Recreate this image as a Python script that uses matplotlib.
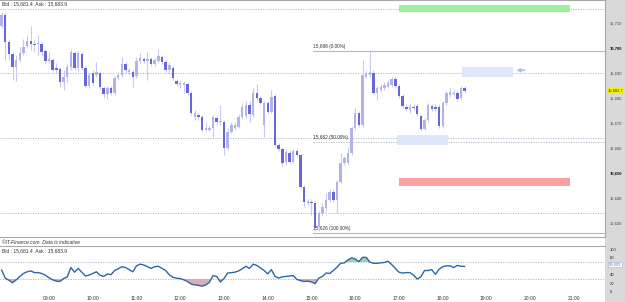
import matplotlib
matplotlib.use('Agg')
import matplotlib.pyplot as plt
import matplotlib.transforms as mtransforms
from matplotlib.patches import Rectangle
import numpy as np
import pandas as pd

plt.rcParams['font.family'] = ['Liberation Sans', 'DejaVu Sans']

W, H = 625, 302

# 5 minute candles, first one at 07:55
first_bar = '2024-01-01 07:55'

opens = [15708.7, 15713.1, 15702.3, 15697.5, 15692.3, 15695.1, 15697.9, 15700.7, 15702.7, 15701.5,
         15701.3, 15701.5, 15698.7, 15694.7, 15694.9, 15691.7, 15691.5, 15686.1, 15688.3, 15692.3,
         15697.9, 15691.9, 15697.5, 15691.9, 15684.7, 15689.9, 15689.1, 15689.7, 15683.7, 15681.5,
         15683.7, 15681.9, 15687.9, 15689.1, 15693.5, 15690.2, 15690.1, 15688.5, 15694.5, 15695.5,
         15694.5, 15695.5, 15693.3, 15694.5, 15696.3, 15694.3, 15691.1, 15691.9, 15686.5, 15685.1,
         15685.1, 15685.5, 15681.9, 15672.3, 15673.1, 15672.3, 15667.1, 15667.1, 15667.9, 15671.9,
         15670.3, 15670.4, 15659.8, 15666.4, 15667.9, 15668.4, 15672.3, 15672.7, 15677.1, 15673.1,
         15682.0, 15679.8, 15669.1, 15677.9, 15674.4, 15680.7, 15661.1, 15659.4, 15654.4, 15657.9,
         15654.4, 15658.7, 15657.1, 15644.4, 15638.0, 15638.4, 15638.0, 15628.3, 15633.8, 15635.8,
         15639.1, 15642.4, 15639.1, 15646.4, 15653.9, 15653.9, 15657.9, 15667.9, 15673.9, 15669.1,
         15688.4, 15689.1, 15690.0, 15681.8, 15683.1, 15683.8, 15684.4, 15685.1, 15687.5, 15684.7,
         15680.7, 15676.4, 15675.1, 15676.4, 15676.8, 15672.7, 15667.4, 15671.1, 15676.7, 15676.4,
         15676.4, 15668.7, 15677.8, 15681.1, 15681.5, 15681.8, 15679.8, 15683.8]
highs = [15714.3, 15714.3, 15703.1, 15698.3, 15697.1, 15700.3, 15703.5, 15705.1, 15708.7, 15703.1,
         15705.1, 15702.3, 15699.5, 15698.7, 15695.9, 15693.9, 15692.3, 15691.1, 15693.5, 15699.5,
         15698.7, 15698.7, 15698.3, 15692.7, 15689.9, 15691.1, 15694.3, 15690.7, 15684.7, 15684.7,
         15684.7, 15688.7, 15690.3, 15696.3, 15694.3, 15691.9, 15691.1, 15696.3, 15697.9, 15696.3,
         15698.3, 15696.3, 15695.9, 15699.5, 15697.1, 15695.1, 15694.3, 15692.7, 15687.5, 15687.1,
         15686.7, 15686.3, 15682.7, 15675.1, 15673.9, 15673.1, 15670.3, 15668.7, 15673.1, 15672.7,
         15677.1, 15671.1, 15667.9, 15670.3, 15670.3, 15673.5, 15677.9, 15678.7, 15678.7, 15683.9,
         15685.5, 15680.7, 15678.7, 15678.7, 15683.1, 15681.5, 15661.9, 15660.3, 15659.5, 15658.7,
         15659.5, 15659.5, 15657.9, 15645.1, 15639.5, 15639.5, 15638.7, 15634.7, 15637.9, 15641.9,
         15643.5, 15643.5, 15647.1, 15657.9, 15656.7, 15660.4, 15668.7, 15675.9, 15674.7, 15695.1,
         15690.7, 15699.1, 15691.1, 15684.7, 15685.5, 15686.3, 15687.1, 15688.7, 15688.3, 15685.5,
         15681.5, 15677.5, 15677.5, 15677.5, 15677.5, 15673.5, 15671.9, 15677.9, 15677.5, 15677.5,
         15677.5, 15678.7, 15682.7, 15683.9, 15683.1, 15682.7, 15684.7, 15684.7]
lows = [15707.9, 15695.1, 15695.1, 15687.1, 15686.7, 15694.3, 15697.1, 15699.9, 15699.1, 15698.3,
        15697.1, 15696.7, 15693.5, 15693.9, 15690.3, 15689.9, 15684.3, 15683.1, 15686.3, 15691.1,
        15691.1, 15690.7, 15691.1, 15683.9, 15683.9, 15685.1, 15688.3, 15683.5, 15679.9, 15679.5,
        15681.1, 15681.1, 15687.1, 15688.3, 15689.9, 15689.5, 15684.3, 15687.9, 15693.9, 15693.9,
        15687.1, 15692.7, 15692.7, 15693.9, 15693.5, 15690.3, 15689.9, 15687.1, 15684.7, 15683.9,
        15681.9, 15681.1, 15673.1, 15671.1, 15671.1, 15666.3, 15666.7, 15666.7, 15664.3, 15669.5,
        15669.1, 15657.1, 15659.1, 15665.9, 15667.1, 15667.9, 15671.5, 15671.9, 15670.3, 15672.3,
        15679.1, 15677.5, 15664.3, 15673.5, 15673.9, 15660.3, 15658.7, 15652.7, 15653.1, 15653.9,
        15653.9, 15656.3, 15643.9, 15636.3, 15637.1, 15633.1, 15626.7, 15626.7, 15632.7, 15634.3,
        15638.3, 15638.3, 15633.9, 15645.9, 15653.1, 15653.1, 15657.1, 15667.1, 15668.3, 15668.3,
        15687.9, 15688.3, 15681.5, 15679.1, 15682.3, 15683.1, 15683.9, 15684.3, 15683.9, 15679.9,
        15675.9, 15674.7, 15673.9, 15675.1, 15672.7, 15666.7, 15667.1, 15670.3, 15674.7, 15674.7,
        15667.9, 15667.9, 15677.1, 15680.3, 15680.7, 15678.7, 15679.1, 15681.9]
closes = [15713.1, 15702.3, 15697.5, 15692.3, 15695.1, 15697.9, 15700.3, 15702.7, 15701.5, 15701.1,
          15701.9, 15698.3, 15694.7, 15695.3, 15691.1, 15691.1, 15686.3, 15688.3, 15692.3, 15698.1,
          15691.9, 15697.9, 15691.9, 15684.7, 15689.1, 15685.9, 15690.1, 15684.1, 15681.5, 15683.7,
          15681.9, 15687.9, 15689.1, 15693.5, 15690.9, 15690.9, 15688.3, 15694.5, 15695.9, 15694.5,
          15695.5, 15693.3, 15694.9, 15696.5, 15694.3, 15691.1, 15693.1, 15687.9, 15685.5, 15685.9,
          15685.9, 15681.9, 15673.9, 15673.9, 15672.3, 15667.1, 15667.9, 15667.9, 15672.3, 15670.3,
          15670.7, 15659.8, 15666.4, 15669.1, 15669.1, 15672.4, 15676.3, 15677.1, 15673.5, 15681.8,
          15679.8, 15677.8, 15677.9, 15674.3, 15680.4, 15661.1, 15659.4, 15653.8, 15658.4, 15654.4,
          15658.7, 15657.1, 15644.4, 15638.3, 15638.4, 15637.8, 15627.8, 15633.9, 15636.4, 15639.1,
          15642.4, 15639.1, 15646.4, 15653.9, 15655.9, 15657.9, 15667.9, 15673.9, 15669.1, 15689.1,
          15689.9, 15690.4, 15682.0, 15683.8, 15684.4, 15685.1, 15685.8, 15687.5, 15684.7, 15680.7,
          15676.7, 15675.5, 15676.4, 15675.8, 15673.5, 15667.4, 15671.1, 15677.1, 15675.5, 15675.5,
          15668.7, 15677.8, 15681.8, 15682.4, 15682.0, 15679.4, 15683.8, 15682.7]

# oscillator (0-100) under the price chart
osc = [51, 32, 27, 21, 28, 36, 43, 47, 49, 45, 45, 43, 39, 33, 28, 25, 24, 31, 35, 57,
       46, 55, 46, 37, 39, 43, 47, 39, 36, 42, 40, 50, 54, 59, 57, 52, 47, 61, 65, 63,
       59, 55, 59, 60, 55, 50, 40, 34, 32, 31, 28, 24, 18, 16, 15, 13, 16, 22, 38, 36,
       23, 31, 44, 45, 46, 49, 54, 60, 55, 65, 62, 56, 50, 42, 52, 36, 32, 35, 36, 37,
       38, 29, 26, 24, 25, 23, 19, 32, 36, 44, 43, 50, 58, 67, 68, 75, 80, 77, 71, 81,
       81, 70, 67, 67, 68, 69, 72, 64, 55, 46, 44, 45, 45, 39, 30, 35, 50, 50, 52, 41,
       53, 59, 61, 61, 57, 62, 60, 59.6]

price_ticks = [15630, 15640, 15650, 15660, 15670, 15680, 15690, 15700, 15710]
bold_ticks = [15650, 15700]
last_price = 15682.7
osc_last = '59.605'
osc_ticks = [0, 20, 40, 80, 100]
hour_ticks = list(range(9, 22))

dotted_levels = [15715.4, 15690.0, 15663.8, 15633.8]
fib_prices = [15698.8, 15662.4, 15626.0]
fib_labels = ['15,698 (0.00%)', '15,662 (50.00%)', '15,626 (100.00%)']
fib_start = 15.03   # drawn from the low of the day

# zones: (start hour, end hour, low, high, colour)
zones = [(17.0, 20 + 55 / 60, 15714.2, 15717.2, '#9df09d'),
         (17.0, 20 + 55 / 60, 15644.7, 15647.9, '#f6a2a2'),
         (18 + 26 / 60, 19 + 37 / 60, 15688.3, 15692.3, '#dde7f8'),
         (16 + 57 / 60, 18 + 7 / 60, 15661.1, 15665.1, '#dde7f8')]

times = pd.date_range(first_bar, periods=len(closes), freq='5min')
x = np.array(times.hour + times.minute / 60.0)
o, hi, lo, c = map(np.array, (opens, highs, lows, closes))
osc = np.array(osc, dtype=float)


def px_box(x0, y0, x1, y1):
    return [x0 / W, 1 - y1 / H, (x1 - x0) / W, (y1 - y0) / H]


fig = plt.figure(figsize=(W / 100, H / 100), dpi=100)
fig.patch.set_facecolor('white')

# grey price scale strip on the right, kept behind the axes and their labels
fig.patches.append(Rectangle((605 / W, 0), 20 / W, 1, transform=fig.transFigure,
                             facecolor='#d9d9d9', edgecolor='none', zorder=-5))

xmin, xmax = 7.88, 21.709
ax = fig.add_axes(px_box(0, 0, 605, 237))
ax.set_xlim(xmin, xmax)
ax.set_ylim(15719.08 - 0.4 * 237, 15719.08)
for s in ax.spines.values():
    s.set_color('#a8a8a8')
    s.set_linewidth(0.8)
ax.spines['left'].set_visible(False)
ax.set_xticks([])

for lvl in dotted_levels:
    ax.axhline(lvl, color='#aab4c0', lw=0.6, ls=(0, (1.5, 1.5)), zorder=1)

for p, lab in zip(fib_prices, fib_labels):
    if '(50' in lab:
        ax.plot([fib_start, xmax], [p, p], color='#aab4c0', lw=0.6, ls=(0, (1.5, 1.5)), zorder=1)
    else:
        ax.plot([fib_start, xmax], [p, p], color='#a9bccb', lw=0.8, zorder=1)
    ax.text(fib_start, p + 0.6, lab, fontsize=3.4, color='#333333', va='bottom', ha='left')

for x0, x1, y0, y1, col in zones:
    ax.add_patch(Rectangle((x0, y0), x1 - x0, y1 - y0, facecolor=col, edgecolor='none', zorder=2))

ax.annotate('', xy=(19 + 37 / 60, 15691.0), xytext=(19 + 56 / 60, 15691.0),
            arrowprops=dict(arrowstyle='-|>', color='#a9bff0', lw=1.2, mutation_scale=5))

# candles
up = c >= o
ax.vlines(x, lo, hi, color='#cacaf0', lw=0.8, zorder=3)
body_lo = np.minimum(o, c)
body_h = np.maximum(np.abs(c - o), 0.5)
ax.bar(x[up], body_h[up], width=0.056, bottom=body_lo[up], color='#b3b3ec', zorder=4)
ax.bar(x[~up], body_h[~up], width=0.056, bottom=body_lo[~up], color='#6767d6', zorder=4)

ax.yaxis.tick_right()
ax.set_yticks(price_ticks)
ax.set_yticklabels([f'{v:,}' for v in price_ticks])
ax.tick_params(axis='y', length=0, pad=3.5, labelsize=3.0, labelcolor='#444444')
for t, v in zip(ax.get_yticklabels(), price_ticks):
    if v in bold_ticks:
        t.set_fontweight('bold')
        t.set_color('#111111')

trans = mtransforms.blended_transform_factory(ax.transAxes, ax.transData)
ax.text(1.005, last_price, f'{last_price:,.1f}', transform=trans, fontsize=3.0,
        color='#333333', va='center', ha='left',
        bbox=dict(boxstyle='square,pad=0.15', facecolor='#f4f000', edgecolor='none'))

ax.text(0.003, 0.995, 'Bid : 15,681.4  Ask : 15,683.9', transform=ax.transAxes,
        fontsize=3.6, color='#333333', va='top', ha='left')
fig.text(2 / W, 1 - 242 / H, '\u00a9IT-Finance.com  Data is indicative', fontsize=3.6,
         color='#333333', va='center', ha='left', style='italic')

# oscillator panel
ax2 = fig.add_axes(px_box(0, 246, 605, 292))
ax2.set_xlim(xmin, xmax)
ax2.set_ylim(-0.7, 107.8)
for s in ax2.spines.values():
    s.set_visible(False)
ax2.spines['top'].set_visible(True)
ax2.spines['top'].set_color('#a8a8a8')
ax2.spines['top'].set_linewidth(0.8)
for lvl in (30, 70):
    ax2.axhline(lvl, color='#aab4c0', lw=0.6, ls=(0, (1.5, 1.5)))
ax2.fill_between(x, osc, 70, where=osc >= 70, interpolate=True, color='#9fd6a0', lw=0)
ax2.fill_between(x, osc, 30, where=osc <= 30, interpolate=True, color='#d9aeb6', lw=0)
ax2.plot(x, osc, color='#2f66a6', lw=1.0)

ax2.yaxis.tick_right()
ax2.set_yticks(osc_ticks)
ax2.set_yticklabels([str(v) for v in osc_ticks])
ax2.tick_params(axis='y', length=0, pad=3.5, labelsize=3.0, labelcolor='#222222')
trans2 = mtransforms.blended_transform_factory(ax2.transAxes, ax2.transData)
ax2.text(1.006, osc[-1] + 4, osc_last, transform=trans2, fontsize=3.0, color='#4a7fd0',
         va='center', ha='left',
         bbox=dict(boxstyle='square,pad=0.12', facecolor='white', edgecolor='#9ab0d8', lw=0.4))
ax2.text(0.003, 0.96, 'Bid : 15,681.4  Ask : 15,683.9', transform=ax2.transAxes,
         fontsize=3.6, color='#333333', va='top', ha='left')

ax2.set_xticks(hour_ticks)
ax2.set_xticklabels([f'{h:02d}:00' for h in hour_ticks])
ax2.tick_params(axis='x', length=0, pad=3, labelsize=3.6, labelcolor='#333333')

fig.savefig('out.png', dpi=100, facecolor='white')
